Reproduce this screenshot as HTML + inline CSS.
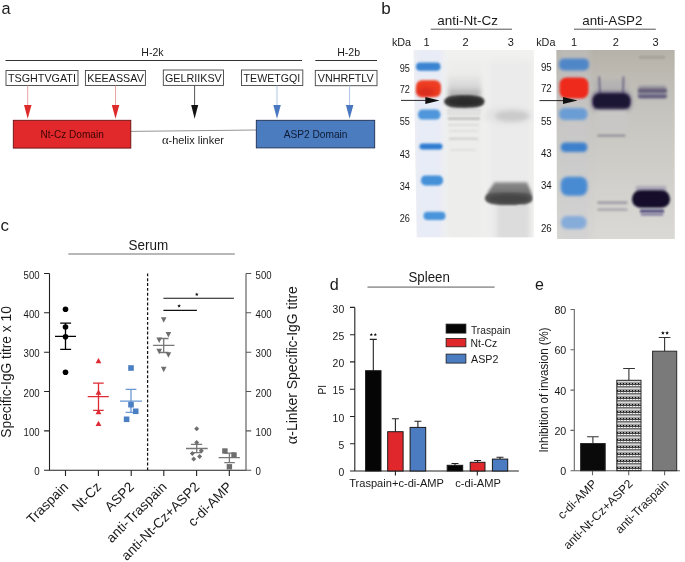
<!DOCTYPE html>
<html><head><meta charset="utf-8"><title>Figure</title>
<style>
html,body{margin:0;padding:0;background:#fff;width:685px;height:562px;overflow:hidden}
svg{display:block;will-change:transform}
text{font-family:"Liberation Sans",sans-serif;fill:#1a1a1a}
</style></head>
<body>
<svg width="685" height="562" viewBox="0 0 685 562">
<defs>
<filter id="b1" filterUnits="userSpaceOnUse" x="370" y="40" width="315" height="210"><feGaussianBlur stdDeviation="1"/></filter>
<filter id="b15" filterUnits="userSpaceOnUse" x="370" y="40" width="315" height="210"><feGaussianBlur stdDeviation="1.5"/></filter>
<filter id="b2" filterUnits="userSpaceOnUse" x="370" y="40" width="315" height="210"><feGaussianBlur stdDeviation="2"/></filter>
<filter id="b3" filterUnits="userSpaceOnUse" x="370" y="40" width="315" height="210"><feGaussianBlur stdDeviation="3"/></filter>
<filter id="b05" filterUnits="userSpaceOnUse" x="370" y="40" width="315" height="210"><feGaussianBlur stdDeviation="0.6"/></filter>
<filter id="b08" filterUnits="userSpaceOnUse" x="370" y="40" width="315" height="210"><feGaussianBlur stdDeviation="0.8"/></filter>
<pattern id="hatch" width="3" height="7" patternUnits="userSpaceOnUse" x="617" y="381">
<rect width="3" height="7" fill="#a0a0a0"/>
<rect y="0" width="3" height="1" fill="#d8d8d8"/>
<rect x="0" y="2" width="1" height="1" fill="#111"/>
<rect y="3" width="3" height="1" fill="#404040"/>
<rect x="1" y="4" width="2" height="1" fill="#f4f4f4"/>
<rect y="5" width="3" height="1" fill="#707070"/>
</pattern>
</defs>

<!-- ============ PANEL A ============ -->
<g id="pa">
<text x="1.6" y="14.2" font-size="16.3">a</text>
<text x="141.3" y="55.6" font-size="10.6" textLength="22.2" lengthAdjust="spacingAndGlyphs">H-2k</text>
<text x="337.2" y="56" font-size="10.6" textLength="22.9" lengthAdjust="spacingAndGlyphs">H-2b</text>
<line x1="5.5" y1="60.5" x2="302" y2="60.5" stroke="#333" stroke-width="1"/>
<line x1="315.3" y1="60.5" x2="377" y2="60.5" stroke="#333" stroke-width="1"/>
<g fill="#fff" stroke="#444" stroke-width="0.9">
<rect x="6" y="70.5" width="72" height="15"/>
<rect x="85.4" y="70.5" width="60" height="15"/>
<rect x="163.3" y="70" width="60.2" height="15.4"/>
<rect x="241.5" y="70" width="61.3" height="15.5"/>
<rect x="315.3" y="70.4" width="61.7" height="15.3"/>
</g>
<g font-size="10.9">
<text x="8" y="81.6" textLength="67.9" lengthAdjust="spacingAndGlyphs">TSGHTVGATI</text>
<text x="87.3" y="81.6" textLength="56.5" lengthAdjust="spacingAndGlyphs">KEEASSAV</text>
<text x="164.9" y="81.5" textLength="56.9" lengthAdjust="spacingAndGlyphs">GELRIIKSV</text>
<text x="243.6" y="81.5" textLength="56.5" lengthAdjust="spacingAndGlyphs">TEWETGQI</text>
<text x="317.8" y="81.8" textLength="55.9" lengthAdjust="spacingAndGlyphs">VNHRFTLV</text>
</g>
<!-- arrows -->
<g stroke-width="0.9">
<line x1="27.7" y1="85.5" x2="27.7" y2="106" stroke="#e79a9a"/>
<line x1="115.5" y1="85.5" x2="115.5" y2="106" stroke="#e79a9a"/>
<line x1="194.6" y1="85.5" x2="194.6" y2="106" stroke="#444"/>
<line x1="277" y1="85.5" x2="277" y2="106" stroke="#a8c0e0"/>
<line x1="349.6" y1="85.5" x2="349.6" y2="106" stroke="#a8c0e0"/>
</g>
<polygon points="24,105 31.5,105 27.7,118.8" fill="#dd2b2b"/>
<polygon points="111.8,105 119.3,105 115.5,118.8" fill="#dd2b2b"/>
<polygon points="191.2,105 198.2,105 194.6,118.8" fill="#111"/>
<polygon points="273.3,105 280.8,105 277,118.8" fill="#4a78c0"/>
<polygon points="345.9,105 353.4,105 349.6,118.8" fill="#4a78c0"/>
<!-- domains -->
<line x1="130.8" y1="131.4" x2="256.5" y2="130" stroke="#888" stroke-width="0.9"/>
<rect x="13.3" y="120.3" width="117.5" height="27.8" fill="#e1282a" stroke="#6a1010" stroke-width="0.9"/>
<rect x="256.3" y="120.3" width="118.4" height="27.6" fill="#4b7cc0" stroke="#1e2e50" stroke-width="0.9"/>
<text x="40.5" y="137.8" font-size="10.1" textLength="63.3" lengthAdjust="spacingAndGlyphs" style="fill:#3a0505">Nt-Cz Domain</text>
<text x="283.7" y="137.8" font-size="10.1" textLength="63.8" lengthAdjust="spacingAndGlyphs" style="fill:#0d1a33">ASP2 Domain</text>
<text x="161.9" y="143.6" font-size="10.8" textLength="62" lengthAdjust="spacingAndGlyphs"><tspan style="font-family:'Liberation Serif',serif" font-size="12.5">α</tspan>-helix linker</text>
</g>

<!-- ============ PANEL B ============ -->
<g id="pb">
<text x="381.2" y="14" font-size="17">b</text>
<text x="437.3" y="24.5" font-size="13.5" textLength="60.7" lengthAdjust="spacingAndGlyphs">anti-Nt-Cz</text>
<text x="582.2" y="24.5" font-size="13.5" textLength="60.3" lengthAdjust="spacingAndGlyphs">anti-ASP2</text>
<line x1="430.7" y1="29.2" x2="512" y2="29.2" stroke="#555" stroke-width="1"/>
<line x1="574" y1="29.2" x2="655.8" y2="29.2" stroke="#555" stroke-width="1"/>
<g font-size="11">
<text x="391.9" y="45.9" textLength="19.2" lengthAdjust="spacingAndGlyphs">kDa</text>
<text x="536.2" y="45.9" textLength="19.2" lengthAdjust="spacingAndGlyphs">kDa</text>
<text x="423.5" y="45.9">1</text>
<text x="462.5" y="45.9">2</text>
<text x="507.8" y="45.9">3</text>
<text x="571" y="45.9">1</text>
<text x="612.8" y="45.9">2</text>
<text x="652.5" y="45.9">3</text>
</g>
<g font-size="10.8">
<text x="399.7" y="71.7" textLength="10.2" lengthAdjust="spacingAndGlyphs">95</text>
<text x="399.7" y="92.7" textLength="10.2" lengthAdjust="spacingAndGlyphs">72</text>
<text x="399.7" y="125.4" textLength="10.2" lengthAdjust="spacingAndGlyphs">55</text>
<text x="399.7" y="157.8" textLength="10.2" lengthAdjust="spacingAndGlyphs">43</text>
<text x="399.7" y="190" textLength="10.2" lengthAdjust="spacingAndGlyphs">34</text>
<text x="399.7" y="222.3" textLength="10.2" lengthAdjust="spacingAndGlyphs">26</text>
<text x="540.9" y="71" textLength="10.8" lengthAdjust="spacingAndGlyphs">95</text>
<text x="540.9" y="92.2" textLength="10.8" lengthAdjust="spacingAndGlyphs">72</text>
<text x="540.9" y="124.9" textLength="10.8" lengthAdjust="spacingAndGlyphs">55</text>
<text x="540.9" y="157.3" textLength="10.8" lengthAdjust="spacingAndGlyphs">43</text>
<text x="540.9" y="189.3" textLength="10.8" lengthAdjust="spacingAndGlyphs">34</text>
<text x="540.9" y="232.1" textLength="10.8" lengthAdjust="spacingAndGlyphs">26</text>
</g>

<!-- left blot -->
<clipPath id="clipL"><polygon points="413.5,50 533.8,50 533.6,237.2 416.8,237.2"/></clipPath>
<linearGradient id="smearL" x1="0" y1="0" x2="0" y2="1"><stop offset="0" stop-color="#ebebeb"/><stop offset="0.6" stop-color="#d6d6d6"/><stop offset="1" stop-color="#a0a0a0"/></linearGradient>
<linearGradient id="smearL3" x1="0" y1="0" x2="0" y2="1"><stop offset="0" stop-color="#8e8e8e"/><stop offset="0.4" stop-color="#7c7c7c"/><stop offset="1" stop-color="#666"/></linearGradient>
<g clip-path="url(#clipL)">
<rect x="410" y="48" width="126" height="192" fill="#f1f1f0"/>
<rect x="446" y="60" width="37" height="180" fill="#ededec" filter="url(#b3)"/>
<rect x="488" y="60" width="44" height="180" fill="#ebebeb" filter="url(#b3)"/>
<rect x="415" y="46" width="28" height="195" fill="#e8ecf6" filter="url(#b3)"/>
<!-- ladder -->
<rect x="416" y="62.4" width="24.5" height="8.4" rx="4" fill="#3a84d2" filter="url(#b1)"/>
<rect x="416" y="80.3" width="25" height="16.6" rx="6" fill="#ee3d22" filter="url(#b1)"/>
<ellipse cx="426" cy="92" rx="9" ry="4" fill="#d82a1e" filter="url(#b2)"/>
<rect x="418" y="109.6" width="22.5" height="10" rx="4.5" fill="#5096da" filter="url(#b1)"/>
<rect x="419.5" y="143.6" width="23" height="6" rx="3" fill="#2f7cd0" filter="url(#b1)"/>
<rect x="421" y="175.4" width="22" height="10" rx="4.5" fill="#4590d8" filter="url(#b1)"/>
<rect x="423.5" y="211.8" width="22" height="8.2" rx="4" fill="#4a94da" filter="url(#b1)"/>
<!-- lane 2 -->
<rect x="448" y="74" width="33" height="22" fill="url(#smearL)" filter="url(#b2)"/>
<g stroke="#cccccc" stroke-width="1.4" filter="url(#b1)">
<line x1="447" y1="110.2" x2="481" y2="110.2"/><line x1="447" y1="113.8" x2="481" y2="113.8" stroke="#d2d2d2"/>
<line x1="448" y1="118.6" x2="480" y2="118.6" stroke="#b2b2b2" stroke-width="2"/><line x1="448" y1="125" x2="479" y2="125" stroke="#d4d4d4"/>
<line x1="449" y1="131" x2="478" y2="131" stroke="#dadada"/>
<line x1="449" y1="138.7" x2="478" y2="138.7" stroke="#c2c2c2"/>
<line x1="450" y1="149.9" x2="476" y2="149.9" stroke="#dadada"/>
</g>
<path d="M443.8,101.6 C446,95.5 452,95 464,95 C478,95 484.5,96.5 484.5,101.6 C484.5,106.5 478,108 464,108 C452,108 446,107.5 443.8,101.6 Z" fill="#3e3e3e" filter="url(#b1)"/>
<ellipse cx="465" cy="101.6" rx="17" ry="4" fill="#2a2a2a" filter="url(#b15)"/>
<!-- lane 3 -->
<ellipse cx="508" cy="115.5" rx="24" ry="8" fill="#e2e2e2" filter="url(#b3)"/>
<ellipse cx="512" cy="116" rx="17" ry="5.5" fill="#cbcbcb" filter="url(#b2)"/>
<rect x="497" y="200" width="32" height="40" fill="#dcdcdc" filter="url(#b2)"/>
<path d="M494.5,182.3 L527,182.3 L531.5,193 L532,198 L486,198 L488,192 Z" fill="url(#smearL3)" filter="url(#b15)"/>
<path d="M484.8,198.5 C486,193 492,192.5 508,192.5 C524,192.5 532.5,193 532.5,199 C532.5,204 524,205 508,205 C492,205 486,203.5 484.8,198.5 Z" fill="#525252" filter="url(#b1)"/>
<ellipse cx="509" cy="199" rx="20" ry="4" fill="#444" filter="url(#b15)"/>
<ellipse cx="520" cy="207" rx="3" ry="1.5" fill="#d8d8d8" filter="url(#b1)"/>
</g>

<!-- right blot -->
<clipPath id="clipR"><polygon points="556.4,50 674.6,50 674.8,239 557,239"/></clipPath>
<g clip-path="url(#clipR)">
<linearGradient id="gR" gradientUnits="userSpaceOnUse" x1="0" y1="50" x2="0" y2="239"><stop offset="0" stop-color="#b6b2a9"/><stop offset="0.15" stop-color="#bebbb4"/><stop offset="0.35" stop-color="#c7c5c0"/><stop offset="0.6" stop-color="#cecdc8"/><stop offset="1" stop-color="#dad9d5"/></linearGradient>
<rect x="554" y="48" width="124" height="194" fill="url(#gR)"/>
<rect x="558" y="46" width="32" height="196" fill="#c8c9d0" opacity="0.35" filter="url(#b3)"/>
<!-- ladder -->
<rect x="559" y="58.5" width="30" height="12" rx="5" fill="#4f86c8" filter="url(#b15)"/>
<rect x="559.5" y="77.5" width="29" height="21" rx="7" fill="#ee2a1e" filter="url(#b1)"/>
<rect x="559" y="108" width="28.5" height="12" rx="5.5" fill="#6a9dd4" filter="url(#b15)"/>
<rect x="560.7" y="142.4" width="26.7" height="9.6" rx="4.5" fill="#3d80cc" filter="url(#b15)"/>
<rect x="560.7" y="176.8" width="26.7" height="19" rx="7" fill="#4a8bd2" filter="url(#b15)"/>
<rect x="561" y="216" width="25.5" height="13" rx="6" fill="#86acd9" filter="url(#b15)"/>
<!-- lane 2 -->
<rect x="594" y="80" width="34" height="16" fill="#b5b2b3" filter="url(#b2)"/>
<g stroke="#5a5478" stroke-width="1.4" filter="url(#b08)">
<line x1="599.2" y1="76.5" x2="600" y2="96"/><line x1="623.5" y1="76.5" x2="623" y2="96"/>
</g>
<rect x="592" y="92" width="39" height="19" rx="8" fill="#4a4466" filter="url(#b2)"/>
<rect x="593" y="93.8" width="37" height="15.4" rx="6.5" fill="#1b1436" filter="url(#b1)"/>
<rect x="595" y="110" width="33" height="24" fill="#c9c7c5" filter="url(#b2)"/>
<rect x="597.4" y="134.6" width="28" height="2" fill="#8e8c94" filter="url(#b08)"/>
<rect x="597.4" y="201.2" width="30" height="3" fill="#a4a2a8" filter="url(#b1)"/>
<rect x="597.4" y="208.2" width="30" height="2.8" fill="#aeacb1" filter="url(#b1)"/>
<!-- lane 3 -->
<rect x="639" y="56.4" width="26" height="1.8" fill="#9c978f" filter="url(#b08)"/>
<rect x="638" y="86" width="28.5" height="12.5" rx="3" fill="#8e8a9a" filter="url(#b15)"/>
<rect x="638.5" y="89.4" width="28" height="2.8" fill="#5a5470" filter="url(#b1)"/>
<rect x="638.5" y="95" width="28" height="2.8" fill="#605a7a" filter="url(#b1)"/>
<rect x="636" y="186" width="30" height="6" fill="#a9a5b5" filter="url(#b15)"/>
<rect x="640" y="209.6" width="24" height="3" fill="#4a4478" filter="url(#b08)"/>
<rect x="641" y="213.6" width="22" height="1.8" fill="#6a6290" filter="url(#b08)"/>
<rect x="632" y="190.2" width="38" height="17.6" rx="8.5" fill="#120c2c" filter="url(#b1)"/>
</g>
<!-- arrows -->
<line x1="401" y1="100.4" x2="427" y2="100.4" stroke="#111" stroke-width="0.9"/>
<polygon points="425.3,96.9 439.6,100.4 425.3,103.9" fill="#111"/>
<line x1="539.5" y1="100.6" x2="565" y2="100.6" stroke="#111" stroke-width="0.9"/>
<polygon points="563,97.1 577.6,100.6 563,104.1" fill="#111"/>
</g>


<!-- ============ PANEL C ============ -->
<g id="pc">
<text x="0.6" y="230.7" font-size="16.9">c</text>
<text x="128.5" y="250.1" font-size="13.9" textLength="39.7" lengthAdjust="spacingAndGlyphs">Serum</text>
<line x1="68.3" y1="254" x2="234.8" y2="254" stroke="#a0a0a0" stroke-width="1.7"/>
<!-- y title -->
<text transform="translate(11.3,371.9) rotate(-90)" text-anchor="middle" font-size="14.2" textLength="131.5" lengthAdjust="spacingAndGlyphs">Specific-IgG titre x 10</text>
<text transform="translate(296.9,365.2) rotate(-90)" text-anchor="middle" font-size="14.3" textLength="158" lengthAdjust="spacingAndGlyphs"><tspan style="font-family:'Liberation Serif',serif" font-size="16.5">α</tspan>-Linker Specific-IgG titre</text>
<!-- left axis -->
<g stroke="#222" stroke-width="1.1" fill="none">
<path d="M49.5,273.5 V470.2 M44.1,273.5 H49.5 M44.1,312.8 H49.5 M44.1,352.2 H49.5 M44.1,391.5 H49.5 M44.1,430.9 H49.5 M44.1,470.2 H246"/>
<path d="M65.5,470.2 V476 M98.4,470.2 V476 M131.2,470.2 V476 M163.8,470.2 V476 M196.6,470.2 V476 M229.3,470.2 V476"/>
</g>
<g stroke="#555" stroke-width="1.1" fill="none">
<path d="M246,273.5 V470.2 M246,273.5 H251.2 M246,312.8 H251.2 M246,352.2 H251.2 M246,391.5 H251.2 M246,430.9 H251.2 M246,470.2 H251.2"/>
</g>
<g font-size="11" text-anchor="end">
<text x="39.6" y="278.6" textLength="16.0" lengthAdjust="spacingAndGlyphs">500</text>
<text x="39.6" y="317.9" textLength="16.0" lengthAdjust="spacingAndGlyphs">400</text>
<text x="39.6" y="357.3" textLength="16.0" lengthAdjust="spacingAndGlyphs">300</text>
<text x="39.6" y="396.6" textLength="16.0" lengthAdjust="spacingAndGlyphs">200</text>
<text x="39.6" y="436" textLength="16.0" lengthAdjust="spacingAndGlyphs">100</text>
<text x="39.6" y="475.3" textLength="5.4" lengthAdjust="spacingAndGlyphs">0</text>
</g>
<g font-size="11">
<text x="255.6" y="278.6" textLength="16.0" lengthAdjust="spacingAndGlyphs">500</text>
<text x="255.6" y="317.9" textLength="16.0" lengthAdjust="spacingAndGlyphs">400</text>
<text x="255.6" y="357.3" textLength="16.0" lengthAdjust="spacingAndGlyphs">300</text>
<text x="255.6" y="396.6" textLength="16.0" lengthAdjust="spacingAndGlyphs">200</text>
<text x="255.6" y="436" textLength="16.0" lengthAdjust="spacingAndGlyphs">100</text>
<text x="255.6" y="475.3" textLength="5.4" lengthAdjust="spacingAndGlyphs">0</text>
</g>
<!-- dashed separator -->
<line x1="147.6" y1="273.4" x2="147.6" y2="470" stroke="#111" stroke-width="1.25" stroke-dasharray="2.9,1.95"/>
<!-- significance -->
<g stroke="#111" stroke-width="1.1">
<line x1="163.4" y1="298.2" x2="233.9" y2="298.2"/>
<line x1="163.4" y1="310.4" x2="196.9" y2="310.4"/>
</g>
<g fill="#111"><polygon points="196.80,292.50 197.30,293.71 198.61,293.81 197.61,294.66 197.92,295.94 196.80,295.25 195.68,295.94 195.99,294.66 194.99,293.81 196.30,293.71"/><polygon points="179.10,304.00 179.60,305.21 180.91,305.31 179.91,306.16 180.22,307.44 179.10,306.75 177.98,307.44 178.29,306.16 177.29,305.31 178.60,305.21"/></g>
<!-- Traspain -->
<g stroke="#000" stroke-width="1.3">
<path d="M65.5,323.2 V349.4 M60.2,323.2 H71.1 M60.2,349.4 H71.1 M55,336.3 H76"/>
</g>
<g fill="#000">
<circle cx="65.5" cy="309.2" r="2.8"/><circle cx="65.5" cy="327" r="2.8"/>
<circle cx="65.5" cy="336.7" r="2.8"/><circle cx="65.5" cy="372.3" r="2.8"/>
</g>
<!-- Nt-Cz -->
<g stroke="#dd2a33" stroke-width="1.3">
<path d="M98.5,383.1 V410.3 M93.1,383.1 H103.7 M93.1,410.3 H103.7 M87.7,396.7 H108.8"/>
</g>
<g fill="#dd2a33">
<polygon points="98.5,358 101.4,363.2 95.6,363.2"/>
<polygon points="98.5,389.6 101.4,394.8 95.6,394.8"/>
<polygon points="98.5,409 101.4,414.2 95.6,414.2"/>
<polygon points="98.5,420.7 101.4,425.9 95.6,425.9"/>
</g>
<!-- ASP2 -->
<g stroke="#6b98d2" stroke-width="1.3">
<path d="M131,389.4 V412.3 M125.6,389.4 H136.4 M125.6,412.3 H136.4 M120,401.1 H142"/>
</g>
<g fill="#4b7fc4">
<rect x="128.2" y="365.2" width="5.6" height="5.6"/>
<rect x="128.2" y="401.9" width="5.6" height="5.6"/>
<rect x="132.9" y="408.5" width="5.6" height="5.6"/>
<rect x="123.8" y="416.5" width="5.6" height="5.6"/>
</g>
<!-- anti-Traspain -->
<g stroke="#777" stroke-width="1.3">
<path d="M163.7,338.5 V352.5 M158.9,338.5 H168.5 M158.9,352.5 H168.5 M153.1,345.3 H174.5"/>
</g>
<g fill="#6e6e6e">
<polygon points="160.9,317.3 166.5,317.3 163.7,322.8"/>
<polygon points="165.6,331.9 171.2,331.9 168.4,337.4"/>
<polygon points="156.4,337.5 162.0,337.5 159.2,343.0"/>
<polygon points="156.4,348.7 162.0,348.7 159.2,354.2"/>
<polygon points="165.6,352.3 171.2,352.3 168.4,357.8"/>
<polygon points="160.9,366.7 166.5,366.7 163.7,372.2"/>
</g>
<!-- anti-Nt-Cz+ASP2 -->
<g stroke="#777" stroke-width="1.3">
<path d="M196.7,444.4 V452.7 M191,444.4 H202.2 M191,452.7 H202.2 M186,448.5 H207.7"/>
</g>
<g fill="#6e6e6e">
<polygon points="196.7,426.3 199.2,428.8 196.7,431.3 194.2,428.8"/>
<polygon points="196.7,440 199.2,442.5 196.7,445 194.2,442.5"/>
<polygon points="201.3,448.2 203.8,450.7 201.3,453.2 198.8,450.7"/>
<polygon points="192.3,450.9 194.8,453.4 192.3,455.9 189.8,453.4"/>
<polygon points="199.6,454.1 202.1,456.6 199.6,459.1 197.1,456.6"/>
<polygon points="193.7,456.4 196.2,458.9 193.7,461.4 191.2,458.9"/>
</g>
<!-- c-di-AMP -->
<g stroke="#777" stroke-width="1.3">
<path d="M229.4,453.1 V462.6 M224.3,453.1 H234.8 M224.3,462.6 H234.8 M218.6,457.6 H239.9"/>
</g>
<g fill="#6e6e6e">
<rect x="222.2" y="448.3" width="5.4" height="5.4"/>
<rect x="231.3" y="452.3" width="5.4" height="5.4"/>
<rect x="226.7" y="464.1" width="5.4" height="5.4"/>
</g>
<!-- x labels -->
<g font-size="13.6" text-anchor="end">
<text transform="translate(69.2,487.7) rotate(-45)">Traspain</text>
<text transform="translate(102.1,487.7) rotate(-45)">Nt-Cz</text>
<text transform="translate(134.9,487.7) rotate(-45)">ASP2</text>
<text transform="translate(167.5,487.7) rotate(-45)">anti-Traspain</text>
<text transform="translate(200.3,487.7) rotate(-45)">anti-Nt-Cz+ASP2</text>
<text transform="translate(233.0,487.7) rotate(-45)">c-di-AMP</text>
</g>
</g>


<!-- ============ PANEL D ============ -->
<g id="pd">
<text x="329.8" y="290" font-size="16.2">d</text>
<text x="408.4" y="282" font-size="13.8" textLength="41.5" lengthAdjust="spacingAndGlyphs">Spleen</text>
<line x1="367.5" y1="287.1" x2="494.6" y2="287.1" stroke="#a0a0a0" stroke-width="1.7"/>
<g stroke="#222" stroke-width="1.1" fill="none">
<path d="M354.8,307.4 V471 M350,307.4 H354.8 M350,334.7 H354.8 M350,361.9 H354.8 M350,389.2 H354.8 M350,416.5 H354.8 M350,443.7 H354.8 M350,471 H518.8"/>
<path d="M395.4,471 V475.5 M477.3,471 V475.5"/>
</g>
<g font-size="11.2" text-anchor="end">
<text x="344.2" y="312.5" textLength="11.6" lengthAdjust="spacingAndGlyphs">30</text>
<text x="344.2" y="339.8" textLength="11.6" lengthAdjust="spacingAndGlyphs">25</text>
<text x="344.2" y="367" textLength="11.6" lengthAdjust="spacingAndGlyphs">20</text>
<text x="344.2" y="394.3" textLength="11.6" lengthAdjust="spacingAndGlyphs">15</text>
<text x="344.2" y="421.6" textLength="11.6" lengthAdjust="spacingAndGlyphs">10</text>
<text x="344.2" y="448.8" textLength="5.8" lengthAdjust="spacingAndGlyphs">5</text>
<text x="344.2" y="476.1" textLength="5.8" lengthAdjust="spacingAndGlyphs">0</text>
</g>
<text transform="translate(325.7,389.7) rotate(-90)" text-anchor="middle" font-size="10">PI</text>
<!-- error bars -->
<g stroke="#222" stroke-width="1.1">
<path d="M373.3,370.7 V339.4 M369.8,339.4 H376.8"/>
<path d="M395.4,431.7 V418.8 M391.9,418.8 H398.9"/>
<path d="M417.9,427.4 V421.3 M414.4,421.3 H421.4"/>
<path d="M455,465.3 V463.5 M451.5,463.5 H458.5"/>
<path d="M477.6,462.3 V460.5 M474.1,460.5 H481.1"/>
<path d="M500,459.1 V457.3 M496.5,457.3 H503.5"/>
</g>
<g stroke="#1a1a1a" stroke-width="1">
<rect x="365.6" y="370.7" width="15.4" height="100.3" fill="#050505"/>
<rect x="387.7" y="431.7" width="15.4" height="39.3" fill="#e0282c"/>
<rect x="410.1" y="427.4" width="15.6" height="43.6" fill="#4b7cc1"/>
<rect x="447.2" y="465.3" width="15.5" height="5.7" fill="#050505"/>
<rect x="470.2" y="462.3" width="14.8" height="8.7" fill="#e0282c"/>
<rect x="492.4" y="459.1" width="15.3" height="11.9" fill="#4b7cc1"/>
</g>
<g fill="#111"><polygon points="371.30,332.90 371.77,333.95 372.92,334.07 372.06,334.85 372.30,335.98 371.30,335.40 370.30,335.98 370.54,334.85 369.68,334.07 370.83,333.95"/><polygon points="375.30,332.90 375.77,333.95 376.92,334.07 376.06,334.85 376.30,335.98 375.30,335.40 374.30,335.98 374.54,334.85 373.68,334.07 374.83,333.95"/></g>
<text x="349.2" y="487.2" font-size="11" textLength="94.8" lengthAdjust="spacingAndGlyphs">Traspain+c-di-AMP</text>
<text x="455.2" y="487.2" font-size="11" textLength="45.8" lengthAdjust="spacingAndGlyphs">c-di-AMP</text>
<!-- legend -->
<g stroke="#1a1a1a" stroke-width="0.8">
<rect x="446.1" y="324.1" width="19.8" height="9" fill="#050505"/>
<rect x="446.1" y="338.4" width="19.8" height="8.4" fill="#e0282c"/>
<rect x="446.1" y="354.1" width="19.8" height="9" fill="#4b7cc1"/>
</g>
<g font-size="10.6">
<text x="471" y="333.7" textLength="39.4" lengthAdjust="spacingAndGlyphs">Traspain</text>
<text x="470.6" y="347.1" textLength="26.6" lengthAdjust="spacingAndGlyphs">Nt-Cz</text>
<text x="471" y="362.9" textLength="27.4" lengthAdjust="spacingAndGlyphs">ASP2</text>
</g>
</g>


<!-- ============ PANEL E ============ -->
<g id="pe">
<text x="535.1" y="289.7" font-size="16">e</text>
<g stroke="#666" stroke-width="1.1" fill="none">
<path d="M574.3,309 V470.7 M570.5,309.5 H574.3 M570.5,349.8 H574.3 M570.5,390.1 H574.3 M570.5,430.4 H574.3 M570.5,470.7 H680"/>
<path d="M592.5,470.7 V475.2 M628.7,470.7 V475.2 M664.6,470.7 V475.2"/>
</g>
<g font-size="10.7" text-anchor="end">
<text x="566.3" y="314.1">80</text>
<text x="566.3" y="354.4">60</text>
<text x="566.3" y="394.7">40</text>
<text x="566.3" y="435">20</text>
<text x="566.3" y="475.3">0</text>
</g>
<text transform="translate(548,390) rotate(-90)" text-anchor="middle" font-size="13" textLength="125.2" lengthAdjust="spacingAndGlyphs">Inhibition of invasion (%)</text>
<g stroke="#333" stroke-width="1.1">
<path d="M592.9,443.5 V436.7 M587.1,436.7 H598.7"/>
<path d="M628.9,380.3 V368.5 M623.2,368.5 H634.9"/>
<path d="M664.6,351.2 V337.5 M658.8,337.5 H670.4"/>
</g>
<g stroke="#2a2a2a" stroke-width="1">
<rect x="580.6" y="443.5" width="24.6" height="27.2" fill="#0a0a0a"/>
<rect x="616.8" y="380.3" width="24.2" height="90.4" fill="url(#hatch)"/>
<rect x="652.6" y="351.2" width="24.1" height="119.5" fill="#7a7a7a"/>
</g>
<g fill="#111"><polygon points="662.90,331.00 663.43,332.27 664.80,332.38 663.76,333.28 664.08,334.62 662.90,333.90 661.72,334.62 662.04,333.28 661.00,332.38 662.37,332.27"/><polygon points="667.10,331.00 667.63,332.27 669.00,332.38 667.96,333.28 668.28,334.62 667.10,333.90 665.92,334.62 666.24,333.28 665.20,332.38 666.57,332.27"/></g>
<g font-size="12.1" text-anchor="end">
<text transform="translate(597.6,484.6) rotate(-45)">c-di-AMP</text>
<text transform="translate(633.6,484.6) rotate(-45)">anti-Nt-Cz+ASP2</text>
<text transform="translate(669.6,484.6) rotate(-45)">anti-Traspain</text>
</g>
</g>

</svg>
</body></html>
